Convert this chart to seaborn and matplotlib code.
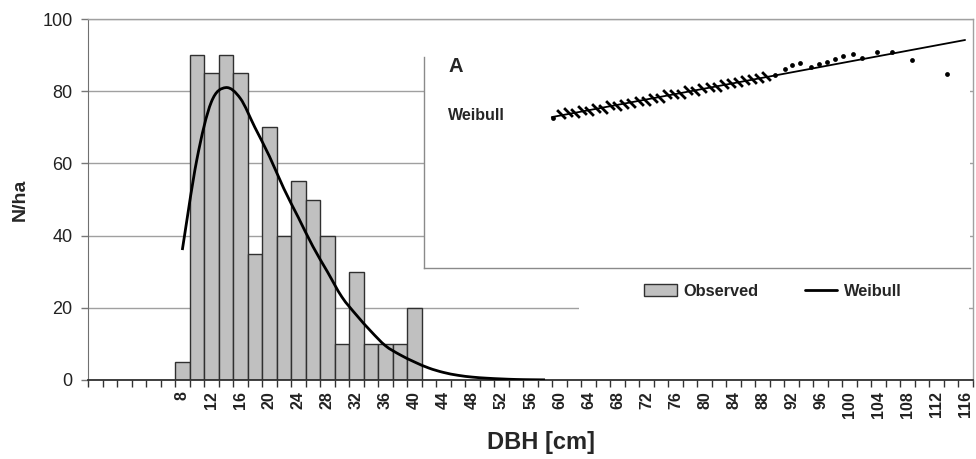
import numpy as np
import pandas as pd
import matplotlib.pyplot as plt
import seaborn as sns
from matplotlib.patches import Patch, Rectangle, PathPatch
from matplotlib.path import Path
from matplotlib.lines import Line2D

# observed diameter distribution, 2 cm classes
dbh_obs = [8, 10, 12, 14, 16, 18, 20, 22, 24, 26, 28, 30, 32, 34, 36, 38, 40]
n_obs = [5, 90, 85, 90, 85, 35, 70, 40, 55, 50, 40, 10, 30, 10, 10, 10, 20]

# fitted Weibull curve
dbh_fit = [8, 10, 12, 14, 16, 18, 20, 22, 24, 26, 28, 30, 32, 34, 36, 38, 40,
           42, 44, 46, 48, 50, 52, 54, 56, 58]
n_fit = [36, 61, 77, 81, 78, 70, 62, 53, 45, 37, 30, 23, 18, 13.5, 9.5, 7, 5,
         3.3, 2.1, 1.3, 0.8, 0.5, 0.3, 0.15, 0.08, 0.04]

tick_dbh = list(range(8, 120, 4))
y_ticks = [0, 20, 40, 60, 80, 100]

# inset A: Weibull probability plot (relative units, no scale shown)
pp_x = [25.0, 26.3, 27.6, 28.9, 30.2, 31.5, 32.8, 34.1, 35.4, 36.7, 38.0, 39.3,
        40.6, 41.9, 43.2, 44.5, 45.8, 47.1, 48.4, 49.7, 51.0, 52.3, 53.6, 54.9,
        56.2, 57.5, 58.8, 60.1, 61.4, 62.7]
pp_y = [64.5, 65.5, 65.0, 66.5, 65.8, 67.3, 67.0, 68.6, 68.2, 69.0, 69.4, 70.3,
        70.2, 71.6, 71.4, 72.9, 73.3, 73.0, 74.6, 74.4, 75.6, 76.2, 76.0, 77.4,
        77.8, 78.3, 78.9, 79.5, 80.0, 80.6]
dot_x = [23.6, 64.3, 66.1, 67.4, 68.9, 70.9, 72.3, 73.8, 75.3, 76.7, 78.6, 80.2,
         83.0, 85.7, 89.4, 95.8]
dot_y = [63.0, 81.1, 83.6, 85.3, 86.1, 84.5, 85.7, 86.6, 87.8, 89.1, 89.9, 88.2,
         90.8, 90.8, 87.4, 81.5]
fit_x = [23.4, 99.1]
fit_y = [63.4, 95.8]

sns.set_style('white')
plt.rcParams['font.family'] = ['Liberation Sans', 'DejaVu Sans']

obs = pd.DataFrame({'dbh': dbh_obs, 'n': n_obs})

fig = plt.figure(figsize=(9.76, 4.59), dpi=100)
ax = fig.add_axes([88 / 976, 1 - 380 / 459, 885 / 976, 361 / 459])

ax.yaxis.grid(True, color='#a0a0a0', lw=1)
ax.set_axisbelow(True)

sns.barplot(data=obs, x='dbh', y='n', native_scale=True, width=1, color='#c0c0c0',
            saturation=1, edgecolor='#303030', linewidth=1, ax=ax)

# smoothed line like the spreadsheet's "smoothed line" option (bezier through the points)
pts = np.column_stack([dbh_fit, n_fit]).astype(float)
verts = [pts[0]]
codes = [Path.MOVETO]
for i in range(len(pts) - 1):
    p0 = pts[max(i - 1, 0)]
    p1, p2 = pts[i], pts[i + 1]
    p3 = pts[min(i + 2, len(pts) - 1)]
    verts += [p1 + (p2 - p0) / 6, p2 - (p3 - p1) / 6, p2]
    codes += [Path.CURVE4] * 3
ax.add_patch(PathPatch(Path(verts, codes), fc='none', ec='black', lw=2, zorder=3))

ax.set_xlim(-5, 117)
ax.set_ylim(0, 100)
ax.set_yticks(y_ticks)
ax.set_xticks(tick_dbh)
ax.set_xticklabels([str(t) for t in tick_dbh], rotation=90, fontweight='bold')
ax.set_xticks(np.arange(-5, 118, 2), minor=True)
ax.tick_params(axis='x', which='major', bottom=True, length=0, pad=8, labelsize=11.5,
               labelcolor='#222222')
ax.tick_params(axis='x', which='minor', bottom=True, length=5, width=1, color='#333333',
               direction='out')
ax.tick_params(axis='y', left=True, length=5, width=1, color='#777777', labelsize=13,
               pad=6, labelcolor='#222222')

for s in ['top', 'right']:
    ax.spines[s].set_color('#a0a0a0')
    ax.spines[s].set_linewidth(1)
ax.spines['left'].set_color('#707070')
ax.spines['bottom'].set_color('#303030')
ax.spines['bottom'].set_linewidth(1.3)

ax.set_xlabel('DBH [cm]', fontsize=17, fontweight='bold')
ax.xaxis.set_label_coords(0.512, -0.142)
ax.set_ylabel('N/ha', fontsize=14, fontweight='bold', labelpad=10)

# white area behind the legend hides the 20 gridline
ax.add_patch(Rectangle((0.555, 0.17), 0.44, 0.14, transform=ax.transAxes,
                       fc='white', ec='none', zorder=0.8))
handles = [Patch(fc='#c0c0c0', ec='#303030', lw=1, label='Observed'),
           Line2D([], [], color='black', lw=2, label='Weibull')]
fig.legend(handles=handles, loc='center', bbox_to_anchor=(773 / 976, 1 - 291 / 459),
           ncol=2, frameon=False, prop=dict(weight='bold', size=11.8),
           handlelength=2.0, handleheight=0.8, columnspacing=2.8, handletextpad=0.4)

# inset A
ax2 = fig.add_axes([424 / 976, 1 - 268 / 459, 546 / 976, 238 / 459])
ax2.set_facecolor('white')
sns.lineplot(x=fit_x, y=fit_y, color='black', lw=1.3, ax=ax2)
stroke = [(-1, 1), (1, -1)]
sns.scatterplot(x=pp_x, y=pp_y, marker=stroke, s=40, color='black', edgecolor='black',
                linewidth=2, ax=ax2)
sns.scatterplot(x=dot_x, y=dot_y, marker='o', s=12, color='black', edgecolor='black',
                linewidth=0, ax=ax2)
ax2.set_xlim(0, 100)
ax2.set_ylim(0, 100)
ax2.set_xticks([])
ax2.set_yticks([])
ax2.set_xlabel('')
ax2.set_ylabel('')
for s in ['top', 'right']:
    ax2.spines[s].set_visible(False)
for s in ['left', 'bottom']:
    ax2.spines[s].set_color('#8a8a8a')
    ax2.spines[s].set_linewidth(1)
ax2.spines['left'].set_bounds(0, 88.7)
ax2.text(4.4, 84.5, 'A', fontsize=14.5, fontweight='bold', va='center', ha='left')
ax2.text(4.4, 63.9, 'Weibull', fontsize=11.5, fontweight='bold', va='center', ha='left')

fig.savefig('out.png', dpi=100)
